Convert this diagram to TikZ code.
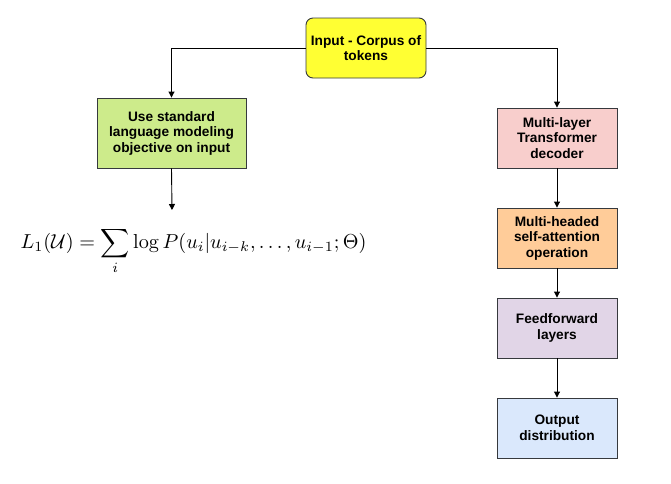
\documentclass[tikz,border=0pt]{standalone}
\usepackage{amsmath}
\usepackage[no-math]{fontspec}
\setmainfont{Liberation Sans}
\usetikzlibrary{arrows.meta}
\definecolor{cyellow}{HTML}{FFFF33}
\definecolor{cgreen}{HTML}{CDEB8B}
\definecolor{cpink}{HTML}{F8CECC}
\definecolor{corange}{HTML}{FFCC99}
\definecolor{cpurple}{HTML}{E1D5E7}
\definecolor{cblue}{HTML}{DAE8FC}
\definecolor{cborder}{HTML}{36393D}
\begin{document}
\begin{tikzpicture}[x=1pt,y=-1pt,
  box/.style={draw=cborder,line width=0.9pt,minimum width=#1,align=center,inner sep=0pt,
    font=\fontsize{13.7}{15.5}\selectfont\bfseries},
  box/.default=120pt,
  conn/.style={draw=black,line width=0.9pt,-{Triangle[length=6pt,width=6pt]}}]
\useasboundingbox[fill=white] (0,0) rectangle (671,483);
\node[box,fill=cyellow,rounded corners=7pt,minimum height=60pt] (top) at (366,48) {Input - Corpus of\\tokens};
\node[box=149pt,fill=cgreen,minimum height=70pt] (lm) at (171.5,133) {Use standard\\language modeling\\objective on input};
\node[box,fill=cpink,minimum height=60pt] (dec) at (557,138) {Multi-layer\\Transformer\\decoder};
\node[box,fill=corange,minimum height=60pt] (att) at (557,238) {Multi-headed\\self-attention\\operation};
\node[box,fill=cpurple,minimum height=60pt] (ff) at (557,328) {Feedforward\\layers};
\node[box,fill=cblue,minimum height=60pt] (out) at (557,428) {Output\\distribution};
\node[inner sep=0pt,anchor=north] (eq) at (193.5,227) {\scalebox{2.02}{$\displaystyle L_1(\mathcal{U})=\sum_i \log P(u_i|u_{i-k},\ldots,u_{i-1};\Theta)$}};
\coordinate (eqtop) at (172,210);
\draw[conn] (top.west) -| (lm.north);
\draw[conn] (top.east) -| (dec.north);
\draw[conn] (lm.south) -- (eqtop);
\draw[conn] (dec) -- (att);
\draw[conn] (att) -- (ff);
\draw[conn] (ff) -- (out);
\end{tikzpicture}
\end{document}
